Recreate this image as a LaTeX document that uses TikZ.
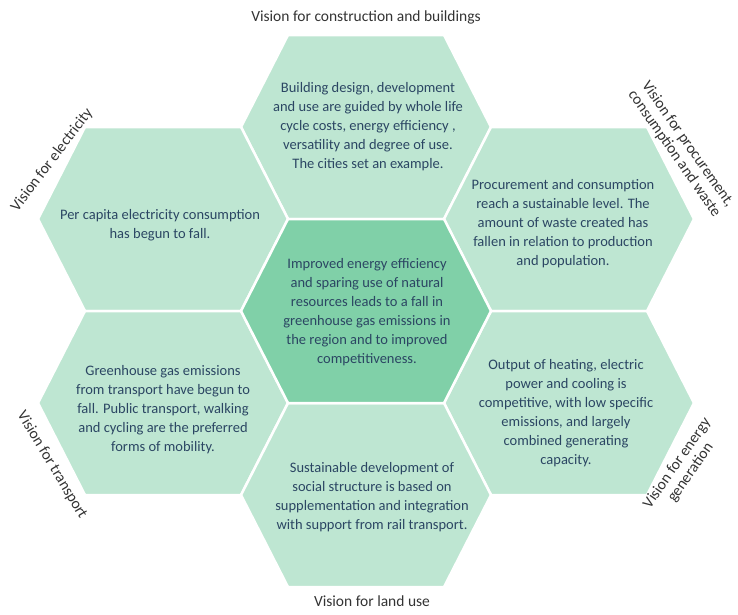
\documentclass[tikz,border=0pt]{standalone}
\usepackage{fontspec}
\setmainfont{Carlito}
\usepackage[HTML]{xcolor}
\usetikzlibrary{positioning}

\definecolor{cellmint}{HTML}{BEE6D2}
\definecolor{coremint}{HTML}{80D0A8}
\definecolor{celltext}{HTML}{2B4663}
\definecolor{labelgrey}{HTML}{333333}

\begin{document}
\begin{tikzpicture}[x=1pt, y=-1pt,
  cell/.style={fill=cellmint, draw=white, line width=2.5pt, line join=round},
  core/.style={fill=coremint, draw=white, line width=2.5pt, line join=round},
  celltxt/.style={align=center, text=celltext, font=\fontsize{14.5}{19}\selectfont},
  vision/.style={align=center, text=labelgrey, font=\fontsize{15.5}{16.5}\selectfont}]
\useasboundingbox (0,0) rectangle (738,614);

% outer ring of cells
\foreach \cx/\cy in {366/127, 163/219, 569/219, 163/403, 569/403, 366/495}{
  \filldraw[cell] (\cx-125,\cy) -- ++(47,-92) -- ++(156,0) -- ++(47,92)
    -- ++(-47,92) -- ++(-156,0) -- cycle;
}
% centre cell
\filldraw[core] (241,311) -- ++(47,-92) -- ++(156,0) -- ++(47,92)
  -- ++(-47,92) -- ++(-156,0) -- cycle;

% cell texts
\node[celltxt] (build) at (368,127) {Building design, development\\and use are guided by whole life\\cycle costs, energy efficiency ,\\versatility and degree of use.\\The cities set an example.};
\node[celltxt] (elec) at (160,225) {Per capita electricity consumption\\has begun to fall.};
\node[celltxt] (procure) at (563,224) {Procurement and consumption\\reach a sustainable level. The\\amount of waste created has\\fallen in relation to production\\and population.};
\node[celltxt] (core) at (367,312) {Improved energy efficiency\\and sparing use of natural\\resources leads to a fall in\\greenhouse gas emissions in\\the region and to improved\\competitiveness.};
\node[celltxt] (transport) at (163,410) {Greenhouse gas emissions\\from transport have begun to\\fall. Public transport, walking\\and cycling are the preferred\\forms of mobility.};
\node[celltxt] (energy) at (566,413) {Output of heating, electric\\power and cooling is\\competitive, with low specific\\emissions, and largely\\combined generating\\capacity.};
\node[celltxt] (landuse) at (372,497) {Sustainable development of\\social structure is based on\\supplementation and integration\\with support from rail transport.};

% vision labels round the outside
\node[vision] (vbuild) at (366,17) {Vision for construction and buildings};
\node[vision] (vland) at (372,601) {Vision for land use};
\node[vision, rotate=53] (velec) at (52,160) {Vision for electricity};
\node[vision, rotate=-59] (vtrans) at (52,465) {Vision for transport};
\node[vision, rotate=-55] (vproc) at (681,149) {Vision for procurement,\\consumption and waste};
\node[vision, rotate=55] (vgen) at (684,468) {Vision for energy\\generation};
\end{tikzpicture}
\end{document}
